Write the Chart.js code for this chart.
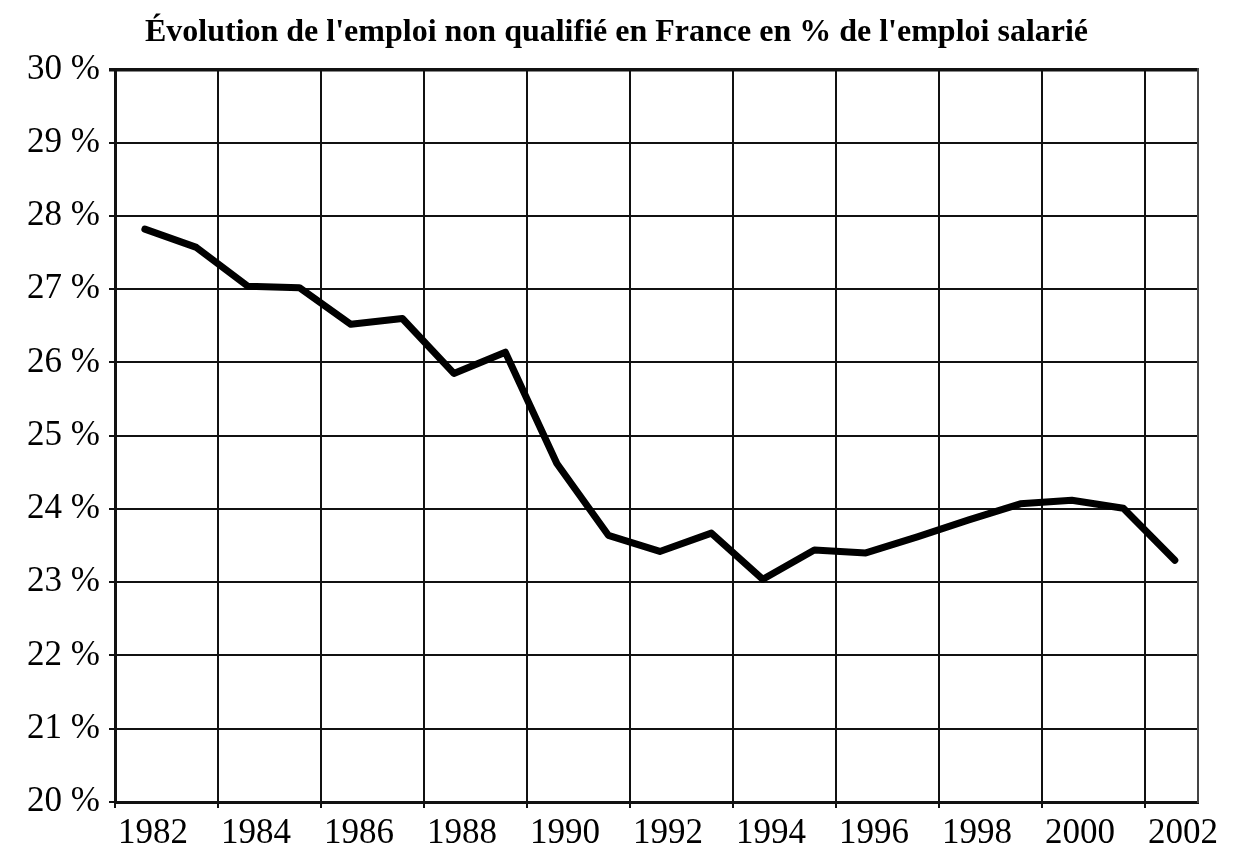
<!DOCTYPE html>
<html lang="fr">
<head>
<meta charset="utf-8">
<title>Emploi non qualifié</title>
<script src="https://cdn.jsdelivr.net/npm/chart.js@4.4.1/dist/chart.umd.min.js"></script>
<style>
    html, body { margin: 0; padding: 0; background: #fff; }
    #boite { width: 1233px; height: 853px; position: relative; }
</style>
</head>
<body>
<div id="boite"><canvas id="graphique"></canvas></div>
<script>
// Données (part de l'emploi non qualifié, en %)
const annees = [1982, 1983, 1984, 1985, 1986, 1987, 1988, 1989, 1990, 1991, 1992,
                1993, 1994, 1995, 1996, 1997, 1998, 1999, 2000, 2001, 2002];
const partNonQualifie = [27.82, 27.57, 27.04, 27.02, 26.52, 26.60, 25.85, 26.14, 24.62, 23.64, 23.42,
                         23.67, 23.04, 23.44, 23.40, 23.62, 23.85, 24.07, 24.12, 24.01, 23.30];
const etiquettesAnnees = ['1982', '1984', '1986', '1988', '1990', '1992', '1994', '1996', '1998', '2000', '2002'];
const graduationsPct = [20, 21, 22, 23, 24, 25, 26, 27, 28, 29, 30];

const debutAxe = 1981.42;
const finAxe = 2002.45;
const police = '"Liberation Serif", "Times New Roman", serif';

const ctx = document.getElementById('graphique').getContext('2d');

new Chart(ctx, {
    type: 'line',
    data: {
        datasets: [{
            label: 'Emploi non qualifié',
            data: annees.map((a, i) => ({ x: a, y: partNonQualifie[i] })),
            borderColor: '#000',
            borderWidth: 7,
            pointRadius: 0,
            tension: 0,
            borderJoinStyle: 'round',
            borderCapStyle: 'round',
            fill: false
        }]
    },
    options: {
        responsive: true,
        maintainAspectRatio: false,
        animation: false,
        layout: { padding: 0 },
        plugins: {
            legend: { display: false },
            tooltip: { enabled: false },
            title: {
                display: true,
                text: "Évolution de l'emploi non qualifié en France en % de l'emploi salarié",
                color: '#000',
                font: { family: police, size: 32, weight: 'bold' },
                padding: { top: 14, bottom: 17 }
            }
        },
        scales: {
            x: {
                type: 'linear',
                min: debutAxe,
                max: finAxe,
                afterBuildTicks: axe => {
                    // un trait vertical tous les deux ans, étiquette décalée à droite
                    axe.ticks = etiquettesAnnees.map((_, i) => ({ value: debutAxe + 2 * i }));
                },
                afterFit: axe => { axe.height = 51; },
                grid: { color: '#111', lineWidth: 2, tickLength: 6, tickColor: '#111' },
                border: { color: '#111', width: 3 },
                ticks: {
                    color: '#000',
                    font: { family: police, size: 35 },
                    padding: 5,
                    maxRotation: 0,
                    autoSkip: false,
                    labelOffset: 38,
                    callback: (v, i) => etiquettesAnnees[i]
                }
            },
            y: {
                min: 20,
                max: 30,
                afterBuildTicks: axe => {
                    axe.ticks = graduationsPct.map(v => ({ value: v }));
                },
                afterFit: axe => { axe.width = 115; },
                grid: {
                    color: '#111',
                    lineWidth: c => (c.tick && c.tick.value === 30 ? 3.5 : 2),
                    tickLength: 6,
                    tickColor: '#111'
                },
                border: { color: '#111', width: 3 },
                ticks: {
                    color: '#000',
                    font: { family: police, size: 35 },
                    padding: 9,
                    callback: v => v + ' %'
                }
            },
            // bordure droite en pointillés
            droite: {
                position: 'right',
                min: 0,
                max: 1,
                afterFit: axe => { axe.width = 35; },
                grid: { display: false },
                ticks: { display: false },
                border: { display: true, color: '#444', width: 2, dash: [3, 2] }
            }
        }
    }
});
</script>
</body>
</html>
